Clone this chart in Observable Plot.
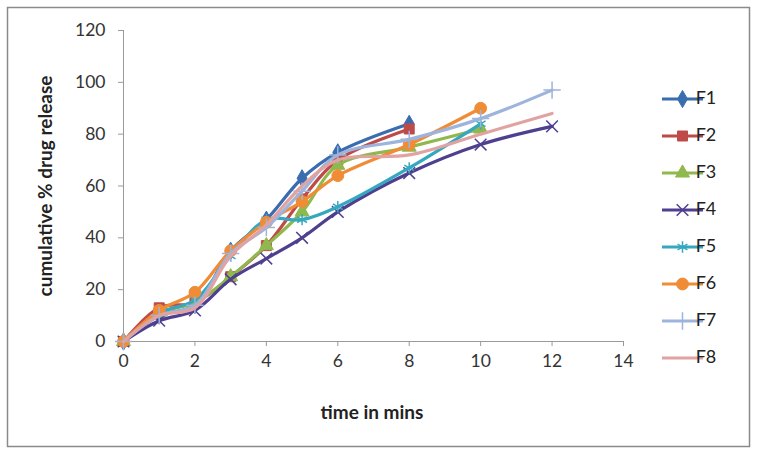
<!DOCTYPE html>
<html>
<head>
<meta charset="utf-8">
<script src="https://cdn.jsdelivr.net/npm/d3@7"></script>
<script src="https://cdn.jsdelivr.net/npm/@observablehq/plot@0.6"></script>
<style>
  html, body { margin: 0; padding: 0; background: #fff; }
  #chart { position: relative; width: 758px; height: 452px; }
</style>
</head>
<body>
<div id="chart"></div>
<script>
// ---- data ----
const times = [0, 1, 2, 3, 4, 5, 6, 8, 10, 12];
const seriesNames = ["F1", "F2", "F3", "F4", "F5", "F6", "F7", "F8"];
const F1 = [0, 10, 14, 35, 47, 63, 73, 84];
const F2 = [0, 13, 15, 25, 37, 55, 70, 82];
const F3 = [0, 11, 15, 25, 37, 50, 68, 75, 82];
const F4 = [0, 8, 12, 24, 32, 40, 50, 65, 76, 83];
const F5 = [0, 11, 16, 33, 47, 47, 52, 67, 84];
const F6 = [0, 12, 19, 35, 46, 54, 64, 76, 90];
const F7 = [0, 10, 14, 34, 44, 58, 72, 78, 86, 97];
const F8 = [0, 10, 13, 33, 45, 60, 70, 72, 80, 88];
const xTicks = [0, 2, 4, 6, 8, 10, 12, 14];
const yTicks = [0, 20, 40, 60, 80, 100, 120];

// ---- styles ----
const colors = ["#3a6cb0", "#be4b48", "#8fb84d", "#4f3f8f", "#35a8c0", "#f08c36", "#9db4dc", "#e1a3a1"];
const symbols = ["diamond", "square", "triangle", "times", "asterisk", "circle", "plus", null];
const filled = [true, true, true, false, false, true, false, false];
const symSize = [85, 100, 85, 90, 90, 110, 100, 0];

const values = [F1, F2, F3, F4, F5, F6, F7, F8];
const rows = [];
values.forEach((arr, s) => arr.forEach((v, i) => rows.push({series: seriesNames[s], t: times[i], v})));

const font = "Lato, 'Open Sans', sans-serif";
const marks = [
  Plot.ruleX([0], {y1: 0, y2: 120, stroke: "#9a9a9a", strokeWidth: 1}),
  Plot.ruleY([0], {x1: 0, x2: 14, stroke: "#9a9a9a", strokeWidth: 1}),
  Plot.axisX({ticks: xTicks, tickSize: 5, tickPadding: 8, stroke: "#9a9a9a", label: null, fontSize: 17.5, fill: "#333"}),
  Plot.axisY({ticks: yTicks, tickSize: 5, tickPadding: 13, stroke: "#9a9a9a", label: null, fontSize: 17.5, fill: "#333"})
];
seriesNames.forEach((name, s) => {
  const d = rows.filter(r => r.series === name);
  marks.push(Plot.line(d, {x: "t", y: "v", stroke: colors[s], strokeWidth: 3.2, curve: "catmull-rom"}));
  if (symbols[s]) {
    marks.push(Plot.dot(d, {
      x: "t", y: "v", symbol: () => symbols[s], r: Math.sqrt(symSize[s] / Math.PI),
      fill: filled[s] ? colors[s] : "none",
      stroke: colors[s], strokeWidth: filled[s] ? 1 : 1.5
    }));
  }
});

const chart = Plot.plot({
  width: 758, height: 452,
  marginLeft: 123, marginRight: 135, marginTop: 30, marginBottom: 111,
  style: {fontFamily: font, background: "#fff", overflow: "visible"},
  x: {domain: [0, 14]},
  y: {domain: [0, 120]},
  symbol: {type: "identity"},
  marks
});
document.getElementById("chart").appendChild(chart);

// ---- decorations: border, axis titles, legend ----
const svg = d3.select(chart);
svg.insert("rect", ":first-child")
  .attr("x", 7.5).attr("y", 7.5).attr("width", 742).attr("height", 439)
  .attr("fill", "none").attr("stroke", "#8a8a8a").attr("stroke-width", 1.5);

svg.append("text")
  .attr("transform", "translate(47,186) rotate(-90)")
  .attr("text-anchor", "middle").attr("dominant-baseline", "middle")
  .attr("font-family", font).attr("font-size", 19).attr("font-weight", "bold").attr("fill", "#222")
  .text("cumulative % drug release");

svg.append("text")
  .attr("x", 372).attr("y", 414)
  .attr("text-anchor", "middle").attr("dominant-baseline", "middle")
  .attr("font-family", font).attr("font-size", 19).attr("font-weight", "bold").attr("fill", "#222")
  .text("time in mins");

const lg = svg.append("g");
const symMap = {diamond: d3.symbolDiamond, square: d3.symbolSquare, triangle: d3.symbolTriangle,
  times: d3.symbolTimes, asterisk: d3.symbolAsterisk, circle: d3.symbolCircle, plus: d3.symbolPlus};
seriesNames.forEach((name, s) => {
  const y = 99 + s * 37;
  const g = lg.append("g").attr("transform", `translate(0,${y})`);
  g.append("line").attr("x1", 662).attr("x2", 703).attr("y1", 0).attr("y2", 0)
    .attr("stroke", colors[s]).attr("stroke-width", 3.2);
  if (symbols[s]) {
    g.append("path").attr("transform", "translate(682.5,0)")
      .attr("d", d3.symbol(symMap[symbols[s]], symSize[s])())
      .attr("fill", filled[s] ? colors[s] : "none")
      .attr("stroke", colors[s]).attr("stroke-width", filled[s] ? 1 : 1.5);
  }
  g.append("text").attr("x", 706).attr("y", 0).attr("dominant-baseline", "middle")
    .attr("font-family", font).attr("font-size", 18).attr("fill", "#222").text(name);
});
</script>
</body>
</html>
